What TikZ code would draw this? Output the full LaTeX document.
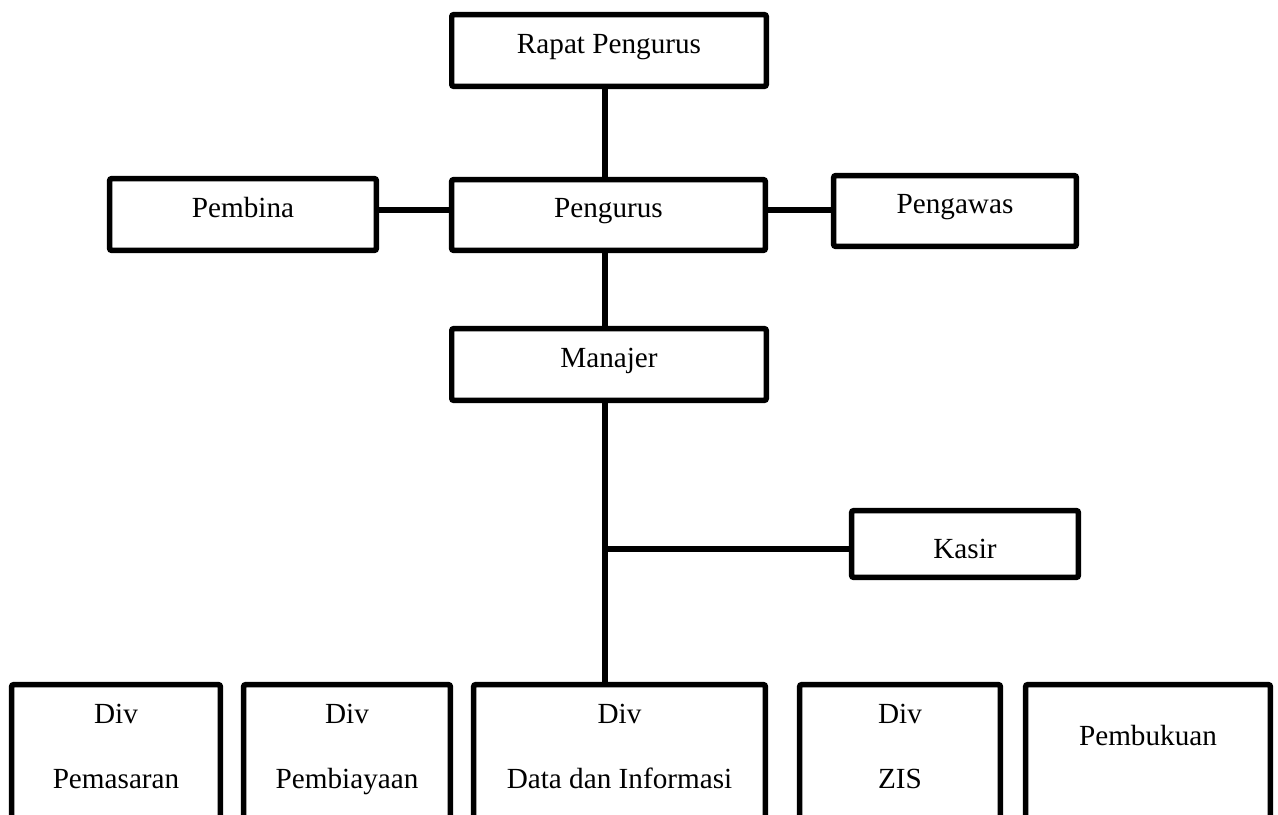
\documentclass[tikz,border=0pt]{standalone}
\usepackage{fontspec}
\setmainfont{Liberation Serif}
\begin{document}
\begin{tikzpicture}[x=0.5pt,y=-0.5pt,
  box/.style={draw=black, line width=2.7pt, rounded corners=1pt, inner sep=0pt, fill=white},
  txt/.style={inner sep=0pt, anchor=base, font=\fontsize{14.6}{17}\selectfont},
  conn/.style={line width=2.6pt}]
\path[use as bounding box] (0,0) rectangle (1278,814);
\clip (0,0) rectangle (1278,814);
% spine coordinate
\coordinate (spine) at (605,0);
% boxes
\node[box, minimum width=157.3pt, minimum height=35.9pt] (rapat) at (609,50.5) {};
\node[box, minimum width=133.4pt, minimum height=35.9pt] (pembina) at (243,214.5) {};
\node[box, minimum width=156.9pt, minimum height=35.4pt] (pengurus) at (608.5,215) {};
\node[box, minimum width=121.4pt, minimum height=35.4pt] (pengawas) at (955,211) {};
\node[box, minimum width=157.3pt, minimum height=35.9pt] (manajer) at (609,364.5) {};
\node[box, minimum width=113.4pt, minimum height=33.4pt] (kasir) at (965,544) {};
\node[box, minimum width=104.4pt, minimum height=76.4pt] (pemasaran) at (116,761) {};
\node[box, minimum width=103.4pt, minimum height=76.4pt] (pembiayaan) at (347,761) {};
\node[box, minimum width=145.9pt, minimum height=76.4pt] (data) at (619.5,761) {};
\node[box, minimum width=100.4pt, minimum height=76.4pt] (zis) at (900,761) {};
\node[box, minimum width=122.4pt, minimum height=76.4pt] (pembukuan) at (1148,761) {};
% connectors
\coordinate (kasirj) at (605,549);
\draw[conn] (rapat.south -| spine) -- (pengurus.north -| spine);
\draw[conn] (pengurus.south -| spine) -- (manajer.north -| spine);
\draw[conn] (manajer.south -| spine) -- (data.north -| spine);
\draw[conn] (pembina.east |- 0,210) -- (pengurus.west |- 0,210);
\draw[conn] (pengurus.east |- 0,210) -- (pengawas.west |- 0,210);
\draw[conn] (kasirj) -- (kasir.west |- kasirj);
% texts
\node[txt] (trapat) at (609,53) {Rapat Pengurus};
\node[txt] (tpembina) at (243,217) {Pembina};
\node[txt] (tpengurus) at (608.5,217) {Pengurus};
\node[txt] (tpengawas) at (955,213) {Pengawas};
\node[txt] (tmanajer) at (609,367) {Manajer};
\node[txt] (tkasir) at (965,558) {Kasir};
\node[txt] (tdiv1) at (116,723) {Div};
\node[txt] (tpemasaran) at (116,788) {Pemasaran};
\node[txt] (tdiv2) at (347,723) {Div};
\node[txt] (tpembiayaan) at (347,788) {Pembiayaan};
\node[txt] (tdiv3) at (619.5,723) {Div};
\node[txt] (tdata) at (619.5,788) {Data dan Informasi};
\node[txt] (tdiv4) at (900,723) {Div};
\node[txt] (tzis) at (900,788) {ZIS};
\node[txt] (tpembukuan) at (1148,745) {Pembukuan};
\end{tikzpicture}
\end{document}
